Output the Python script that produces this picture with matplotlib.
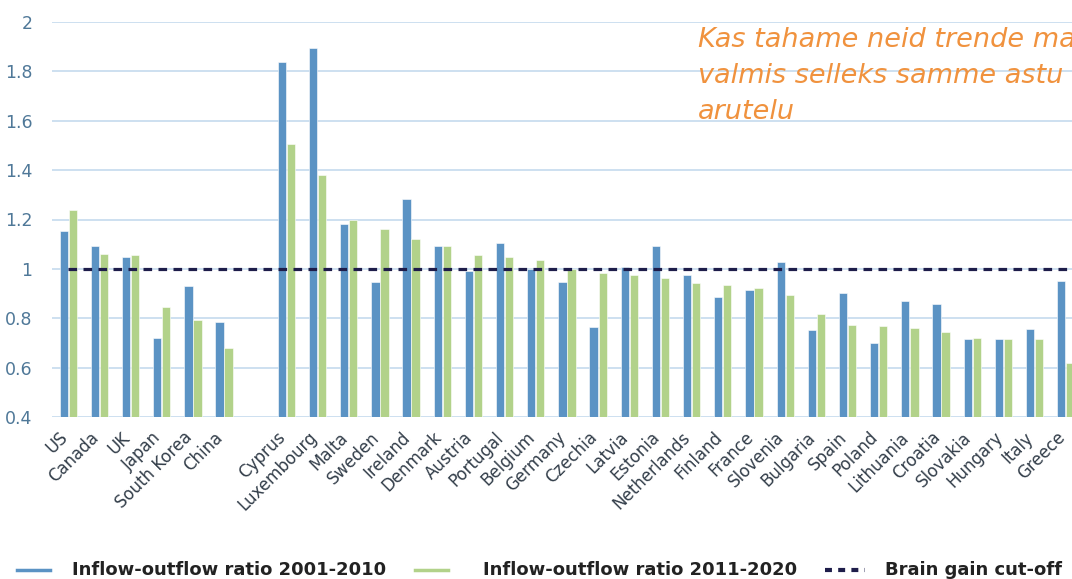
import matplotlib.pyplot as plt
import matplotlib.transforms as mtransforms
import numpy as np
from matplotlib.lines import Line2D

countries = ['US', 'Canada', 'UK', 'Japan', 'South Korea', 'China',
             'Cyprus', 'Luxembourg', 'Malta', 'Sweden', 'Ireland', 'Denmark',
             'Austria', 'Portugal', 'Belgium', 'Germany', 'Czechia', 'Latvia',
             'Estonia', 'Netherlands', 'Finland', 'France', 'Slovenia',
             'Bulgaria', 'Spain', 'Poland', 'Lithuania', 'Croatia', 'Slovakia',
             'Hungary', 'Italy', 'Greece']
# slot index: non-EU group, one empty slot, then EU group
slots = list(range(0, 6)) + list(range(7, 33))

ratio_2001_2010 = [1.155, 1.093, 1.047, 0.719, 0.930, 0.784,
                   1.837, 1.896, 1.182, 0.946, 1.285, 1.093,
                   0.992, 1.104, 1.000, 0.946, 0.764, 1.007,
                   1.094, 0.976, 0.885, 0.914, 1.027,
                   0.752, 0.903, 0.699, 0.868, 0.856, 0.717,
                   0.717, 0.758, 0.951]
ratio_2011_2020 = [1.239, 1.061, 1.057, 0.845, 0.794, 0.679,
                   1.506, 1.381, 1.196, 1.161, 1.120, 1.092,
                   1.057, 1.047, 1.036, 1.001, 0.982, 0.976,
                   0.963, 0.942, 0.934, 0.924, 0.893,
                   0.819, 0.773, 0.768, 0.762, 0.746, 0.718,
                   0.717, 0.715, 0.617]
cutoff = 1.0
yticks = [0.4, 0.6, 0.8, 1, 1.2, 1.4, 1.6, 1.8, 2]
ytick_labels = ['0.4', '0.6', '0.8', '1', '1.2', '1.4', '1.6', '1.8', '2']
legend_labels = ['Inflow-outflow ratio 2001-2010', 'Inflow-outflow ratio 2011-2020', 'Brain gain cut-off']
note_lines = ['Kas tahame neid trende ma', 'valmis selleks samme astu', 'arutelu']

blue = '#5b93c4'
green = '#b2d28a'
navy = '#1e1d4a'
grid_c = '#cde0f0'

plt.rcParams['lines.scale_dashes'] = False
fig = plt.figure(figsize=(10.72, 5.79), dpi=100)
ax = fig.add_axes([52 / 1072, 162 / 579, (1100 - 52) / 1072, (417 - 22) / 579])

x = np.array(slots, dtype=float)
w = 0.265
off = 0.145
ax.bar(x - off, ratio_2001_2010, w, bottom=0, color=blue, edgecolor='white', linewidth=0.4, zorder=2)
ax.bar(x + off, ratio_2011_2020, w, bottom=0, color=green, edgecolor='white', linewidth=0.4, zorder=2)
ax.plot([0, 34], [cutoff, cutoff], color=navy, lw=2.3, dashes=(6.2, 4.6), zorder=3)

ax.set_ylim(0.4, 2.0)
ax.set_xlim(-0.52, 33.1)
ax.set_yticks(yticks)
ax.set_yticklabels(ytick_labels)
ax.grid(axis='y', color=grid_c, lw=1.4, zorder=0)
ax.set_axisbelow(True)
for s in ax.spines.values():
    s.set_visible(False)
ax.tick_params(axis='y', length=0, pad=14, labelsize=12.5, labelcolor='#4f7898')
ax.tick_params(axis='x', length=0, pad=6)
ax.set_xticks(x)
ax.set_xticklabels(countries, rotation=45, ha='right', va='top', rotation_mode='anchor',
                   fontsize=12, color='#333e4a')
shift = mtransforms.ScaledTranslation(-10 / 100, -3 / 100, fig.dpi_scale_trans)
for lab in ax.get_xticklabels():
    lab.set_transform(lab.get_transform() + shift)

# annotation note (runs off the right edge in the source slide)
for i, line in enumerate(note_lines):
    fig.text(698 / 1072, 1 - (40 + 36 * i) / 579, line, color='#f0923e', fontsize=19.5,
             family='DejaVu Sans', style='italic', va='center', ha='left')

# legend row
ly = 1 - 570 / 579
fs = 13
fig.add_artist(Line2D([17 / 1072, 50 / 1072], [ly, ly], color=blue, lw=2.5))
fig.text(72 / 1072, ly, legend_labels[0], fontsize=fs, weight='bold', color='#222222', va='center')
fig.add_artist(Line2D([415 / 1072, 448 / 1072], [ly, ly], color=green, lw=2.5))
fig.text(483 / 1072, ly, legend_labels[1], fontsize=fs, weight='bold', color='#222222', va='center')
fig.add_artist(Line2D([825 / 1072, 865 / 1072], [ly, ly], color=navy, lw=3, dashes=(5, 4.5)))
fig.text(885 / 1072, ly, legend_labels[2], fontsize=fs, weight='bold', color='#222222', va='center')

fig.savefig('out.png', dpi=100)
